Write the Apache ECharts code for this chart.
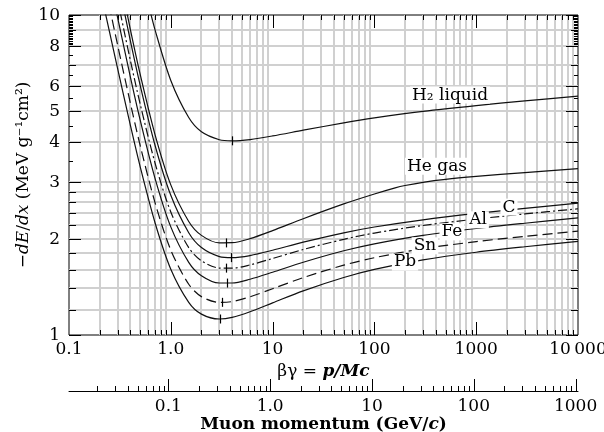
<!DOCTYPE html>
<html><head><meta charset="utf-8">
<script src="https://cdn.jsdelivr.net/npm/echarts@6/dist/echarts.min.js"></script>
<style>html,body{margin:0;padding:0;background:#fff}#c{width:604px;height:432px}</style>
</head><body><div id="c"></div>
<script>
// ---------------- data ----------------
const betaGamma = [0.2,0.25,0.3,0.4,0.5,0.7,1,1.5,2,3,4,6,10,20,50,100,300,1000,3000,10000];
const carbon   = [24.79,17.33,12.96,8.335,6.038,3.918,2.732,2.087,1.876,1.758,1.744,1.771,1.840,1.950,2.086,2.175,2.291,2.399,2.488,2.582];
const aluminum = [21.01,14.81,11.16,7.236,5.272,3.448,2.424,1.875,1.705,1.619,1.617,1.656,1.734,1.850,1.991,2.082,2.199,2.303,2.389,2.480];
const iron     = [18.27,12.99,9.833,6.422,4.700,3.088,2.177,1.687,1.532,1.454,1.454,1.494,1.571,1.688,1.833,1.927,2.048,2.152,2.235,2.323];
const tin      = [14.74,10.58,8.066,5.316,3.913,2.592,1.842,1.441,1.318,1.264,1.272,1.316,1.395,1.511,1.653,1.744,1.861,1.958,2.033,2.113];
const lead     = [12.20,8.86,6.81,4.535,3.359,2.243,1.605,1.265,1.162,1.122,1.135,1.182,1.260,1.374,1.512,1.603,1.717,1.814,1.887,1.962];

const h2BetaGamma = [0.5,0.6,0.7,1,1.5,2,3,4,6,10,20,50,100,300,1000,3000,10000];
const h2Liquid    = [13.96,10.89,8.99,6.244,4.781,4.315,4.075,4.044,4.081,4.188,4.365,4.603,4.769,5.000,5.213,5.390,5.577];

const heBetaGamma = [0.2,0.25,0.3,0.4,0.5,0.7,1,1.5,2,3,4,6,10,20,50,100,160,200,300,500,1000,3000,10000];
const heGas       = [27.3,18.96,14.14,9.04,6.53,4.23,2.945,2.264,2.048,1.941,1.943,2.000,2.119,2.309,2.568,2.758,2.883,2.932,3.000,3.064,3.129,3.219,3.313];

const curveNames = ['H\u2082 liquid','He gas','C','Al','Fe','Sn','Pb'];
const labelBetaGamma = [553, 412, 2099, 1042, 578, 314, 200];
const labelValue     = [5.62, 3.37, 2.51, 2.29, 2.10, 1.90, 1.69];

const minBetaGamma = [4.0, 3.46, 3.9, 3.48, 3.54, 3.16, 3.04];
const minValue     = [4.044, 1.94, 1.745, 1.618, 1.453, 1.265, 1.122];

const xTickValues  = [0.1, 1, 10, 100, 1000, 10000];
const xTickLabels  = ['0.1','1.0','10','100','1000','10\u2009000'];
const yTickValues  = [1, 2, 3, 4, 5, 6, 8, 10];
const yTickLabels  = ['1','2','3','4','5','6','8','10'];
const yGridValues  = [1.2,1.4,1.6,1.8,2,2.2,2.4,2.6,2.8,3,4,5,6,7,8,9];
const yMinorValues = [3.5,4.5,5.5,6.5,7.5,8.1,8.2,8.3,8.4,8.5,8.6,8.7,8.8,8.9,9.1,9.2,9.3,9.4,9.5,9.6,9.7,9.8,9.9];
const muonTickValues = [0.1, 1, 10, 100, 1000];
const muonTickLabels = ['0.1','1.0','10','100','1000'];
const muonMass = 0.10566; // GeV/c^2, p = βγ · M c

// ---------------- helpers ----------------
const FONT = 'DejaVu Serif';
const X_MIN = 0.1, X_MAX = 10000, Y_MIN = 1, Y_MAX = 10;
const GRID_COLOR = '#d0d0d0';
const decades = [0.01, 0.1, 1, 10, 100, 1000];
const mults = [2,3,4,5,6,7,8,9];
const logTicks = (lo, hi) => {
  const out = [];
  decades.forEach(d => mults.forEach(m => { const v = +(d*m).toPrecision(3); if (v > lo && v < hi) out.push(v); }));
  return out;
};
const xMinor = logTicks(X_MIN, X_MAX);
const xMajorInner = xTickValues.slice(1, -1);
const muonMin = X_MIN * muonMass, muonMax = X_MAX * muonMass;
const muonMinor = logTicks(muonMin, muonMax);

const labelFor = (values, labels) => v => {
  const i = values.findIndex(t => Math.abs(Math.log10(v) - Math.log10(t)) < 1e-6);
  return i < 0 ? '' : labels[i];
};
const pairs = (xs, ys) => xs.map((x, i) => [x, ys[i]]);
const L = (x1,y1,x2,y2,stroke,w) => ({type:'line', shape:{x1,y1,x2,y2}, style:{stroke, lineWidth:w}});

function xGridRender(params, api) {
  const cs = params.coordSys;
  const x = Math.round(api.coord([api.value(0), Y_MIN])[0]);
  const t = cs.y, b = cs.y + cs.height;
  return {type:'group', children:[
    L(x, t, x, b, GRID_COLOR, 2),
    L(x+0.5, t, x+0.5, t+5, '#000', 1),
    L(x+0.5, b, x+0.5, b-5, '#000', 1)
  ]};
}
function xMajorRender(params, api) {
  const cs = params.coordSys;
  const x = Math.round(api.coord([api.value(0), Y_MIN])[0]) + 0.5;
  const t = cs.y, b = cs.y + cs.height;
  return {type:'group', children:[ L(x, t, x, t+13, '#000', 1), L(x, b, x, b-13, '#000', 1) ]};
}
function yGridRender(params, api) {
  const cs = params.coordSys;
  const y = Math.round(api.coord([X_MIN, api.value(1)])[1]);
  const l = cs.x, r = cs.x + cs.width;
  return {type:'group', children:[
    L(l, y, r, y, GRID_COLOR, 2),
    L(l, y+0.5, l+7, y+0.5, '#000', 1),
    L(r, y+0.5, r-7, y+0.5, '#000', 1)
  ]};
}
function yMinorRender(params, api) {
  const cs = params.coordSys;
  const y = Math.round(api.coord([X_MIN, api.value(1)])[1]) + 0.5;
  const l = cs.x, r = cs.x + cs.width;
  return {type:'group', children:[ L(l, y, l+4, y, '#000', 1), L(r, y, r-4, y, '#000', 1) ]};
}
function yLabelRender(params, api) {
  const cs = params.coordSys;
  const idx = api.value(2);
  const y = Math.round(api.coord([X_MIN, api.value(1)])[1]) + 0.5;
  const l = cs.x, r = cs.x + cs.width;
  return {type:'group', children:[
    L(l, y, l+12, y, '#000', 1), L(r, y, r-12, y, '#000', 1),
    {type:'text', x: l - 9, y: y, style:{text: yTickLabels[idx], font: '17px ' + FONT, fill:'#000', align:'right', verticalAlign:'middle'}}
  ]};
}
function muonTickRender(len) {
  return (params, api) => {
    const p = api.coord([api.value(0), 0]);
    const x = Math.round(p[0]) + 0.5, y = Math.round(p[1]);
    return L(x, y, x, y - len, '#000', 1);
  };
}
function minMarkRender(params, api) {
  const p = api.coord([api.value(0), api.value(1)]);
  const x = Math.round(p[0]) + 0.5;
  return L(x, p[1] - 4.5, x, p[1] + 4.5, '#000', 1.2);
}
function curveLabelRender(params, api) {
  const p = api.coord([api.value(0), api.value(1)]);
  return {type:'text', x: p[0], y: p[1], style:{
    text: curveNames[api.value(2)], font: '17px ' + FONT, fill:'#000',
    align:'center', verticalAlign:'middle', backgroundColor:'#fff', padding:[0,2,0,2]
  }};
}

const lineTypes = ['solid','solid','solid',[9,3,2,3],'solid',[10,5],'solid'];
const curveData = [
  pairs(h2BetaGamma, h2Liquid), pairs(heBetaGamma, heGas), pairs(betaGamma, carbon),
  pairs(betaGamma, aluminum), pairs(betaGamma, iron), pairs(betaGamma, tin), pairs(betaGamma, lead)
];
const curveSeries = curveData.map((d, i) => ({
  type:'line', name: curveNames[i], data: d, xAxisIndex:0, yAxisIndex:0,
  showSymbol:false, smooth:0.3, z:3, silent:true,
  lineStyle:{color:'#111', width:1.2, type: lineTypes[i]}
}));

const chart = echarts.init(document.getElementById('c'), null, {renderer:'canvas', width:604, height:432});
chart.setOption({
  animation:false,
  backgroundColor:'#fff',
  textStyle:{fontFamily:FONT},
  grid:[
    {left:69, top:15, width:509, height:320, show:true, borderColor:'#000', borderWidth:1, backgroundColor:'transparent', containLabel:false, outerBoundsMode:'none'},
    {left:69, top:390, width:509, height:1, show:false, containLabel:false, outerBoundsMode:'none'}
  ],
  xAxis:[
    {type:'log', logBase:10, gridIndex:0, min:X_MIN, max:X_MAX,
     axisLine:{show:false}, axisTick:{show:false}, splitLine:{show:false}, minorTick:{show:false},
     axisLabel:{formatter: labelFor(xTickValues, xTickLabels), color:'#000', fontFamily:FONT, fontSize:17, margin:6, showMinLabel:true, showMaxLabel:true, hideOverlap:false},
     name:'{n|βγ = }{i|p/Mc}', nameLocation:'middle', nameGap:23,
     nameTextStyle:{rich:{n:{fontFamily:FONT, fontSize:17, color:'#000'}, i:{fontFamily:FONT, fontSize:17, fontStyle:'italic', fontWeight:'bold', color:'#000'}}}},
    {type:'log', logBase:10, gridIndex:1, min:muonMin, max:muonMax,
     axisLine:{show:true, lineStyle:{color:'#000', width:1}}, axisTick:{show:false}, splitLine:{show:false},
     axisLabel:{formatter: labelFor(muonTickValues, muonTickLabels), color:'#000', fontFamily:FONT, fontSize:17, margin:7, hideOverlap:false},
     name:'{n|Muon momentum (GeV/}{i|c}{n|)}', nameLocation:'middle', nameGap:24,
     nameTextStyle:{rich:{n:{fontFamily:FONT, fontSize:17, fontWeight:'bold', color:'#000'}, i:{fontFamily:FONT, fontSize:17, fontStyle:'italic', fontWeight:'bold', color:'#000'}}}}
  ],
  yAxis:[
    {type:'log', logBase:10, gridIndex:0, min:Y_MIN, max:Y_MAX,
     axisLine:{show:false}, axisTick:{show:false}, axisLabel:{show:false}, splitLine:{show:false},
     name:'{n|\u2212}{i|dE}{n|/}{i|dx}{n| (MeV g\u207B\u00B9cm\u00B2)}', nameLocation:'middle', nameGap:37, nameRotate:90,
     nameTextStyle:{rich:{n:{fontFamily:FONT, fontSize:17, color:'#000'}, i:{fontFamily:FONT, fontSize:17, fontStyle:'italic', color:'#000'}}}},
    {type:'value', gridIndex:1, min:0, max:1, show:false}
  ],
  series:[
    {type:'custom', coordinateSystem:'cartesian2d', xAxisIndex:0, yAxisIndex:0, z:1, silent:true, clip:false,
     data: xMinor.map(v => [v, Y_MIN]), renderItem: xGridRender},
    {type:'custom', coordinateSystem:'cartesian2d', xAxisIndex:0, yAxisIndex:0, z:1, silent:true, clip:false,
     data: yGridValues.map(v => [X_MIN, v]), renderItem: yGridRender},
    {type:'custom', coordinateSystem:'cartesian2d', xAxisIndex:0, yAxisIndex:0, z:4, silent:true, clip:false,
     data: xMajorInner.map(v => [v, Y_MIN]), renderItem: xMajorRender},
    {type:'custom', coordinateSystem:'cartesian2d', xAxisIndex:0, yAxisIndex:0, z:4, silent:true, clip:false,
     data: yMinorValues.map(v => [X_MIN, v]), renderItem: yMinorRender},
    {type:'custom', coordinateSystem:'cartesian2d', xAxisIndex:0, yAxisIndex:0, z:4, silent:true, clip:false,
     data: yTickValues.map((v, i) => [X_MIN, v, i]), renderItem: yLabelRender},
    {type:'custom', coordinateSystem:'cartesian2d', xAxisIndex:1, yAxisIndex:1, z:4, silent:true, clip:false,
     data: muonMinor.map(v => [v, 0]), renderItem: muonTickRender(5)},
    {type:'custom', coordinateSystem:'cartesian2d', xAxisIndex:1, yAxisIndex:1, z:4, silent:true, clip:false,
     data: muonTickValues.map(v => [v, 0]), renderItem: muonTickRender(12)},
    ...curveSeries,
    {type:'custom', coordinateSystem:'cartesian2d', xAxisIndex:0, yAxisIndex:0, z:5, silent:true, clip:false,
     data: minBetaGamma.map((v, i) => [v, minValue[i]]), renderItem: minMarkRender},
    {type:'custom', coordinateSystem:'cartesian2d', xAxisIndex:0, yAxisIndex:0, z:6, silent:true, clip:false,
     data: labelBetaGamma.map((v, i) => [v, labelValue[i], i]), renderItem: curveLabelRender}
  ]
});
</script>
</body></html>
